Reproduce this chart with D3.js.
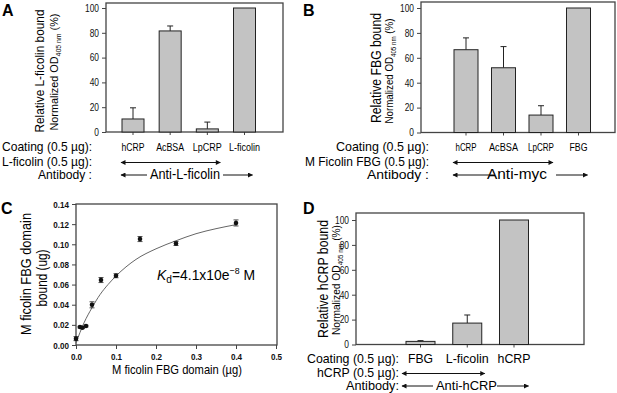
<!DOCTYPE html>
<html>
<head>
<meta charset="utf-8">
<script src="https://cdn.jsdelivr.net/npm/d3@7"></script>
<style>
  body { margin: 0; background: #fff; }
  svg { display: block; font-family: "Liberation Sans", Arial, sans-serif; }
</style>
</head>
<body>
<div id="chart"></div>
<script>
// panel A data
var catsA = ['hCRP', 'AcBSA', 'LpCRP', 'L-ficolin'];
var valsA = [10.5, 81.5, 2.5, 100];
var errA = [9, 4, 5.5, 0];

// panel B data
var catsB = ['hCRP', 'AcBSA', 'LpCRP', 'FBG'];
var valsB = [66.5, 52, 14, 100];
var errB = [9.5, 17, 7.5, 0];

// panel C data
var doseC = [0, 0.01, 0.016, 0.025, 0.04, 0.0625, 0.1, 0.16, 0.25, 0.4];
var boundC = [0.0063, 0.0178, 0.0172, 0.0188, 0.0399, 0.0645, 0.0688, 0.1052, 0.1008, 0.1212];
var errC = [0.002, 0.0008, 0.0008, 0.0008, 0.003, 0.0025, 0.002, 0.0025, 0.002, 0.003];
// fitted curve
var fitX = [0, 0.02, 0.04, 0.06, 0.08, 0.1, 0.15, 0.2, 0.25, 0.3, 0.35, 0.4];
var fitY = [0.002, 0.022, 0.037, 0.050, 0.060, 0.0685, 0.085, 0.0955, 0.1035, 0.1105, 0.1155, 0.1195];
var ticksCx = [0, 0.1, 0.2, 0.3, 0.4, 0.5];
var ticksCy = [0, 0.02, 0.04, 0.06, 0.08, 0.10, 0.12, 0.14];

// panel D data
var catsD = ['FBG', 'L-ficolin', 'hCRP'];
var valsD = [2.5, 17.2, 100];
var errD = [0.6, 6.5, 0];

var ticksBar = [0, 20, 40, 60, 80, 100];

var W = 617, H = 393;
var svg = d3.select('#chart').append('svg')
  .attr('width', W)
  .attr('height', H);

// arrow heads
var defs = svg.append('defs');
defs.append('marker')
  .attr('id', 'head')
  .attr('viewBox', '0 0 10 10')
  .attr('refX', 9).attr('refY', 5)
  .attr('markerWidth', 7).attr('markerHeight', 5)
  .attr('markerUnits', 'userSpaceOnUse')
  .attr('orient', 'auto-start-reverse')
  .append('path')
  .attr('d', 'M0,0L10,5L0,10z')
  .attr('fill', '#111');

// squeeze a text to the width it has in the picture
function fit(sel, len) {
  return sel.attr('textLength', len).attr('lengthAdjust', 'spacingAndGlyphs');
}

// the figure is a bit narrow, so are its tick labels
function squeeze(sel, k) {
  sel.each(function () {
    var w = this.getComputedTextLength();
    d3.select(this).attr('textLength', w * k).attr('lengthAdjust', 'spacingAndGlyphs');
  });
}

function panelLetter(t, x, y) {
  svg.append('text')
    .attr('x', x).attr('y', y)
    .attr('font-size', 16)
    .attr('font-weight', 'bold')
    .text(t);
}

function yTitle(g, x, y, text, size, len) {
  fit(g.append('text')
    .attr('transform', 'translate(' + x + ',' + y + ') rotate(-90)')
    .attr('text-anchor', 'middle')
    .attr('font-size', size)
    .text(text), len);
}

function normTitle(g, x, y, len) {
  var t = g.append('text')
    .attr('transform', 'translate(' + x + ',' + y + ') rotate(-90)')
    .attr('text-anchor', 'middle')
    .attr('font-size', 11);
  t.append('tspan').text('Normalized OD');
  t.append('tspan').attr('font-size', 7).attr('dy', 2.5).text('405 nm');
  t.append('tspan').attr('dy', -2.5).text(' (%)');
  fit(t, len);
}

function arrow(x1, x2, y, both) {
  var l = svg.append('line')
    .attr('x1', x1).attr('x2', x2)
    .attr('y1', y).attr('y2', y)
    .attr('stroke', '#111')
    .attr('stroke-width', 1)
    .attr('marker-end', 'url(#head)');
  if (both) l.attr('marker-start', 'url(#head)');
}

// bar panel
function barPanel(p) {
  var g = svg.append('g');
  var x = d3.scalePoint().domain(p.cats).range(p.xr);
  var y = d3.scaleLinear().domain([0, 100]).range(p.yr);
  var bw = p.bw;

  // frame
  g.append('rect')
    .attr('x', p.frame[0]).attr('y', p.frame[1])
    .attr('width', p.frame[2] - p.frame[0])
    .attr('height', y(0) - p.frame[1])
    .attr('fill', 'none')
    .attr('stroke', '#444')
    .attr('stroke-width', 1.3);

  // y axis ticks
  var ay = g.append('g')
    .attr('transform', 'translate(' + p.frame[0] + ',0)')
    .call(d3.axisLeft(y).tickValues(ticksBar).tickSize(4).tickPadding(3));
  ay.select('.domain').remove();
  ay.selectAll('text').attr('font-size', 10.5).attr('font-family', null).attr('fill', '#111');
  ay.selectAll('line').attr('stroke', '#444');
  squeeze(ay.selectAll('text'), 0.8);

  // x ticks under bars
  g.selectAll('.xt')
    .data(p.cats).enter()
    .append('line')
    .attr('x1', function (d) { return x(d); })
    .attr('x2', function (d) { return x(d); })
    .attr('y1', y(0)).attr('y2', y(0) + 3)
    .attr('stroke', '#444');

  // error bars
  var eb = p.cats.map(function (c, i) { return { c: c, v: p.vals[i], e: p.errs[i] }; })
    .filter(function (d) { return d.e > 0; });
  g.selectAll('.err')
    .data(eb).enter()
    .append('path')
    .attr('d', function (d) {
      var cx = x(d.c), top = y(d.v + d.e);
      return 'M' + cx + ',' + y(d.v) + 'V' + top + 'M' + (cx - 3) + ',' + top + 'H' + (cx + 3);
    })
    .attr('stroke', '#222')
    .attr('fill', 'none')
    .attr('stroke-width', 1);

  // bars
  g.selectAll('.bar')
    .data(p.vals).enter()
    .append('rect')
    .attr('x', function (d, i) { return x(p.cats[i]) - bw / 2; })
    .attr('y', function (d) { return y(d); })
    .attr('width', bw)
    .attr('height', function (d) { return y(0) - y(d); })
    .attr('fill', '#c3c3c3')
    .attr('stroke', '#222')
    .attr('stroke-width', 1);

  // category labels
  g.selectAll('.cat')
    .data(p.cats).enter()
    .append('text')
    .attr('x', function (d) { return x(d); })
    .attr('y', p.rows[0])
    .attr('text-anchor', 'middle')
    .attr('font-size', p.catSize)
    .attr('textLength', function (d, i) { return p.catW[i]; })
    .attr('lengthAdjust', 'spacingAndGlyphs')
    .text(function (d) { return d; });

  // row labels
  g.selectAll('.row')
    .data(p.rowText).enter()
    .append('text')
    .attr('x', p.rowX)
    .attr('y', function (d, i) { return p.rows[i]; })
    .attr('text-anchor', 'end')
    .attr('font-size', p.rowSize)
    .attr('textLength', function (d, i) { return p.rowW[i]; })
    .attr('lengthAdjust', 'spacingAndGlyphs')
    .text(function (d) { return d; });

  yTitle(g, p.t1[0], p.t1[1], p.title, p.t1[2], p.t1[3]);
  normTitle(g, p.t2[0], p.t2[1], p.t2[2]);

  // reagent arrows
  var c0 = p.cats[0], cN = p.cats[p.cats.length - 1], cM = p.cats[p.cats.length - 2];
  var left = x(c0) - bw / 2 + p.arrowShift[0];
  var right2 = x(cM) + bw / 2 + p.arrowShift[1];
  var right3 = x(cN) + bw / 2 + p.arrowShift[2];
  arrow(left, right2, p.rows[1] - 3.5, true);
  var ay2 = p.rows[2] - 4;
  fit(g.append('text')
    .attr('x', p.antiX)
    .attr('y', p.rows[2])
    .attr('text-anchor', 'middle')
    .attr('font-size', p.antiSize)
    .text(p.anti), p.antiW);
  arrow(p.antiGap[0], left, ay2, false);
  arrow(p.antiGap[1], right3, ay2, false);
}

barPanel({
  cats: catsA, vals: valsA, errs: errA,
  xr: [133, 244.5], yr: [132, 8], bw: 22,
  frame: [106, 3, 283],
  rows: [151, 166, 179], catSize: 10, rowSize: 13, rowX: 92,
  catW: [23, 28, 29, 31], rowW: [90, 90, 54],
  rowText: ['Coating (0.5 \u00b5g):', 'L-ficolin (0.5 \u00b5g):', 'Antibody :'],
  title: 'Relative L-ficolin bound', t1: [44, 71, 13.5, 123], t2: [58, 72, 117],
  anti: 'Anti-L-ficolin', antiX: 185, antiSize: 14, antiW: 70, antiGap: [147, 223],
  arrowShift: [-1, 2, -3]
});

barPanel({
  cats: catsB, vals: valsB, errs: errB,
  xr: [466, 578.5], yr: [132.5, 8], bw: 24,
  frame: [421, 2, 615],
  rows: [151, 166, 179], catSize: 10, rowSize: 13, rowX: 429,
  catW: [21, 29, 26, 18], rowW: [93, 124, 62],
  rowText: ['Coating (0.5 \u00b5g):', 'M Ficolin FBG (0.5 \u00b5g):', 'Antibody :'],
  title: 'Relative FBG bound', t1: [381, 68, 14, 110], t2: [393, 71, 105],
  anti: 'Anti-myc', antiX: 517, antiSize: 15, antiW: 60, antiGap: [494, 556],
  arrowShift: [-1, 0, -3]
});

barPanel({
  cats: catsD, vals: valsD, errs: errD,
  xr: [420.5, 514], yr: [344.5, 220], bw: 29,
  frame: [356, 213, 584],
  rows: [363, 377, 390], catSize: 13, rowSize: 13, rowX: 399,
  catW: [25, 43, 33], rowW: [92, 82, 53],
  rowText: ['Coating (0.5 \u00b5g):', 'hCRP (0.5 \u00b5g):', 'Antibody:'],
  title: 'Relative hCRP bound', t1: [328, 279, 14, 118], t2: [340, 280, 110],
  anti: 'Anti-hCRP', antiX: 466.5, antiSize: 13, antiW: 61, antiGap: [433, 497],
  arrowShift: [-4, 3, 0]
});

// panel C
var gC = svg.append('g');
var xC = d3.scaleLinear().domain([0, 0.5]).range([76, 276]);
var yC = d3.scaleLinear().domain([0, 0.14]).range([345, 204]);

gC.append('rect')
  .attr('x', 76).attr('y', yC(0.14))
  .attr('width', 201).attr('height', yC(0) - yC(0.14))
  .attr('fill', 'none')
  .attr('stroke', '#444')
  .attr('stroke-width', 1.3);

var axC = gC.append('g')
  .attr('transform', 'translate(0,' + yC(0) + ')')
  .call(d3.axisBottom(xC).tickValues(ticksCx).tickFormat(d3.format('.1f')).tickSize(4).tickPadding(4));
var ayC = gC.append('g')
  .attr('transform', 'translate(' + xC(0) + ',0)')
  .call(d3.axisLeft(yC).tickValues(ticksCy).tickFormat(d3.format('.2f')).tickSize(4).tickPadding(3));
[axC, ayC].forEach(function (a) {
  a.select('.domain').remove();
  a.selectAll('text').attr('font-size', 9.5).attr('font-weight', 'bold').attr('font-family', null).attr('fill', '#111');
  a.selectAll('line').attr('stroke', '#444');
  squeeze(a.selectAll('text'), 0.85);
});

var line = d3.line()
  .x(function (d, i) { return xC(fitX[i]); })
  .y(function (d) { return yC(d); })
  .curve(d3.curveMonotoneX);
gC.append('path')
  .attr('d', line(fitY))
  .attr('fill', 'none')
  .attr('stroke', '#666')
  .attr('stroke-width', 1);

gC.selectAll('.err')
  .data(boundC).enter()
  .append('path')
  .attr('d', function (d, i) {
    var cx = xC(doseC[i]), t = yC(d + errC[i]), b = yC(d - errC[i]);
    return 'M' + cx + ',' + t + 'V' + b +
      'M' + (cx - 2.5) + ',' + t + 'H' + (cx + 2.5) +
      'M' + (cx - 2.5) + ',' + b + 'H' + (cx + 2.5);
  })
  .attr('stroke', '#222')
  .attr('stroke-width', 0.8)
  .attr('fill', 'none');

gC.selectAll('.pt')
  .data(boundC).enter()
  .append('circle')
  .attr('cx', function (d, i) { return xC(doseC[i]); })
  .attr('cy', function (d) { return yC(d); })
  .attr('r', 2.3)
  .attr('fill', '#111');

yTitle(gC, 31, 274, 'M ficolin FBG domain', 14, 122);
yTitle(gC, 47, 278, 'bound (ug)', 14, 57);

fit(gC.append('text')
  .attr('x', 177).attr('y', 374)
  .attr('text-anchor', 'middle')
  .attr('font-size', 13)
  .text('M ficolin FBG domain (\u00b5g)'), 130);

var kd = gC.append('text')
  .attr('x', 157).attr('y', 280)
  .attr('font-size', 15);
kd.append('tspan').attr('font-style', 'italic').text('K');
kd.append('tspan').attr('font-size', 11).attr('dy', 3).text('d');
kd.append('tspan').attr('dy', -3).text('=4.1x10e');
kd.append('tspan').attr('font-size', 9.5).attr('dy', -6).text('\u22128');
kd.append('tspan').attr('dy', 6).text(' M');
fit(kd, 98);

panelLetter('A', 2, 16);
panelLetter('B', 303, 16);
panelLetter('C', 1, 214);
panelLetter('D', 303, 214);
</script>
</body>
</html>
